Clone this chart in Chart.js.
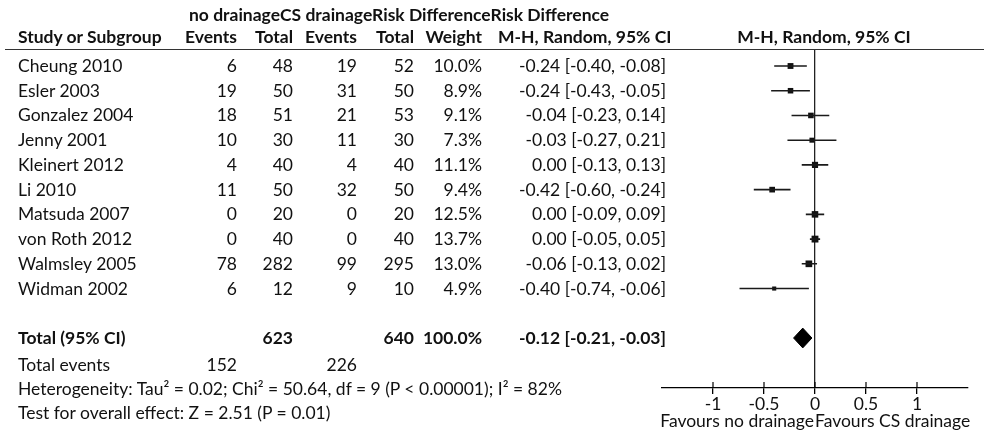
<!DOCTYPE html>
<html>
<head>
<meta charset="utf-8">
<script src="https://cdn.jsdelivr.net/npm/chart.js@4/dist/chart.umd.min.js"></script>
<style>
  html, body { margin: 0; padding: 0; background: #fff; }
  #wrap { position: relative; width: 984px; height: 438px; overflow: hidden; background: #fff; }
  #plot { position: absolute; left: 0; top: 0; }
  .t { position: absolute; white-space: nowrap; font-family: Lato, "Open Sans", sans-serif; font-size: 17.5px;
       line-height: 22px; color: #111; }
  .b { font-weight: bold; }
  #rule { position: absolute; left: 5px; top: 49px; width: 979px; height: 0; border-top: 1.5px solid #333; }
</style>
</head>
<body>
<div id="wrap">
  <canvas id="plot" width="984" height="438"></canvas>
  <div id="rule"></div>
</div>
<script>
// Study rows
const studies = ['Cheung 2010', 'Esler 2003', 'Gonzalez 2004', 'Jenny 2001', 'Kleinert 2012',
                 'Li 2010', 'Matsuda 2007', 'von Roth 2012', 'Walmsley 2005', 'Widman 2002'];
const noDrainEvents = [6, 19, 18, 10, 4, 11, 0, 0, 78, 6];
const noDrainTotal  = [48, 50, 51, 30, 40, 50, 20, 40, 282, 12];
const csDrainEvents = [19, 31, 21, 11, 4, 32, 0, 0, 99, 9];
const csDrainTotal  = [52, 50, 53, 30, 40, 50, 20, 40, 295, 10];
const weights  = [10.0, 8.9, 9.1, 7.3, 11.1, 9.4, 12.5, 13.7, 13.0, 4.9];
const riskDiff = [-0.24, -0.24, -0.04, -0.03, 0.00, -0.42, 0.00, 0.00, -0.06, -0.40];
const ciLow    = [-0.40, -0.43, -0.23, -0.27, -0.13, -0.60, -0.09, -0.05, -0.13, -0.74];
const ciHigh   = [-0.08, -0.05, 0.14, 0.21, 0.13, -0.24, 0.09, 0.05, 0.02, -0.06];

// Pooled estimate and totals
const pooledRD = -0.12, pooledLow = -0.21, pooledHigh = -0.03;
const totalNoDrain = 623, totalCsDrain = 640, totalWeight = 100.0;
const eventsNoDrain = 152, eventsCsDrain = 226;
const heterogeneityText = 'Heterogeneity: Tau\u00B2 = 0.02; Chi\u00B2 = 50.64, df = 9 (P < 0.00001); I\u00B2 = 82%';
const overallEffectText = 'Test for overall effect: Z = 2.51 (P = 0.01)';

// Axis
const axisTicks = [-1, -0.5, 0, 0.5, 1];
const favoursLeft = 'Favours no drainage';
const favoursRight = 'Favours CS drainage';

const totalRow = studies.length + 1;   // blank row, then the pooled row

// ---------- table text ----------
const wrap = document.getElementById('wrap');
const ROW0 = 66, STEP = 24.73;
function put(text, x, cy, align, bold) {
  const d = document.createElement('div');
  d.className = 't' + (bold ? ' b' : '');
  d.textContent = text;
  d.style.top = (cy - 11) + 'px';
  if (align === 'right') d.style.right = (984 - x) + 'px';
  else if (align === 'center') { d.style.left = (x - 200) + 'px'; d.style.width = '400px'; d.style.textAlign = 'center'; }
  else d.style.left = x + 'px';
  wrap.appendChild(d);
  return d;
}
const fmtCI = (r, l, h) => `${r.toFixed(2)} [${l.toFixed(2)}, ${h.toFixed(2)}]`;

// column anchors
const C = { name: 18, ev1: 237, tot1: 293, ev2: 357, tot2: 414, wt: 482, ci: 666 };

// group headings
const g = put('', 189, 15, 'left', true);
g.innerHTML = '<span>no drainage</span><span>CS drainage</span><span>Risk Difference</span><span>Risk Difference</span>';
// column headings
const HY = 37;
put('Study or Subgroup', C.name, HY, 'left', true);
put('Events', C.ev1, HY, 'right', true);
put('Total', C.tot1, HY, 'right', true);
put('Events', C.ev2, HY, 'right', true);
put('Total', C.tot2, HY, 'right', true);
put('Weight', C.wt, HY, 'right', true);
put('M-H, Random, 95% CI', 498, HY, 'left', true);
put('M-H, Random, 95% CI', 824, HY, 'center', true);

studies.forEach((s, i) => {
  const cy = ROW0 + STEP * i;
  put(s, C.name, cy, 'left');
  put(String(noDrainEvents[i]), C.ev1, cy, 'right');
  put(String(noDrainTotal[i]), C.tot1, cy, 'right');
  put(String(csDrainEvents[i]), C.ev2, cy, 'right');
  put(String(csDrainTotal[i]), C.tot2, cy, 'right');
  put(weights[i].toFixed(1) + '%', C.wt, cy, 'right');
  put(fmtCI(riskDiff[i], ciLow[i], ciHigh[i]), C.ci, cy, 'right');
});

const TY = ROW0 + STEP * totalRow;
put('Total (95% CI)', C.name, TY, 'left', true);
put(String(totalNoDrain), C.tot1, TY, 'right', true);
put(String(totalCsDrain), C.tot2, TY, 'right', true);
put(totalWeight.toFixed(1) + '%', C.wt, TY, 'right', true);
put(fmtCI(pooledRD, pooledLow, pooledHigh), C.ci, TY, 'right', true);
put('Total events', C.name, 365, 'left');
put(String(eventsNoDrain), C.ev1, 365, 'right');
put(String(eventsCsDrain), C.ev2, 365, 'right');
put(heterogeneityText, C.name, 389, 'left');
put(overallEffectText, C.name, 413, 'left');
put(favoursLeft, 814, 421, 'right');
put(favoursRight, 815, 421, 'left');

// ---------- forest plot ----------
const whiskers = [];
studies.forEach((s, i) => {
  whiskers.push({ x: ciLow[i], y: i }, { x: ciHigh[i], y: i }, { x: null, y: null });
});
const boxes = riskDiff.map((r, i) => ({ x: r, y: i }));
// box side grows with the square root of the weight
const boxRadius = weights.map(w => 1.85 * Math.sqrt(w) / Math.SQRT2);
const DH = 0.40;  // half height of the pooled diamond, in row units
const diamond = [
  { x: pooledLow, y: totalRow }, { x: pooledRD, y: totalRow - DH },
  { x: pooledHigh, y: totalRow }, { x: pooledRD, y: totalRow + DH }, { x: pooledLow, y: totalRow }
];

const upperTicks = {
  id: 'upperTicks',
  afterDraw(chart) {
    const sx = chart.scales.x, ctx = chart.ctx, y0 = chart.chartArea.bottom;
    ctx.save();
    ctx.strokeStyle = '#000';
    ctx.lineWidth = 1.2;
    axisTicks.forEach(v => {
      const px = sx.getPixelForValue(v);
      ctx.beginPath(); ctx.moveTo(px, y0 - 6); ctx.lineTo(px, y0); ctx.stroke();
    });
    ctx.restore();
  }
};

Chart.defaults.font.family = 'Lato, "Open Sans", sans-serif';
Chart.defaults.font.size = 17.5;
Chart.defaults.color = '#111';

new Chart(document.getElementById('plot'), {
  type: 'scatter',
  data: {
    datasets: [
      { data: whiskers, showLine: true, spanGaps: false, pointRadius: 0,
        borderColor: '#1a1a1a', borderWidth: 1.6 },
      { data: boxes, pointStyle: 'rect', pointRadius: boxRadius,
        backgroundColor: '#111', borderWidth: 0 },
      { data: diamond, showLine: true, pointRadius: 0, fill: 'shape',
        borderColor: '#000', borderWidth: 1, backgroundColor: '#000' }
    ]
  },
  options: {
    responsive: false,
    animation: false,
    devicePixelRatio: 1,
    layout: { padding: { left: 662, right: 16, top: 50, bottom: 0 } },
    plugins: { legend: { display: false }, tooltip: { enabled: false } },
    scales: {
      x: {
        type: 'linear', min: -1.5, max: 1.5, position: 'bottom',
        afterBuildTicks: (s) => { s.ticks = axisTicks.map(v => ({ value: v })); },
        afterFit: (s) => { s.height = 50; },
        grid: {
          drawOnChartArea: true, drawTicks: true, tickLength: 6,
          color: (c) => (c.tick && c.tick.value === 0 ? '#222' : 'rgba(0,0,0,0)'),
          tickColor: '#000', lineWidth: 1.3
        },
        border: { display: true, color: '#000', width: 1.3 },
        ticks: { padding: 0, color: '#111', autoSkip: false, maxRotation: 0,
                 callback: (v) => String(v) }
      },
      y: {
        type: 'linear', reverse: true, min: -0.647, max: 13.022, display: false
      }
    }
  },
  plugins: [upperTicks]
});
</script>
</body>
</html>
